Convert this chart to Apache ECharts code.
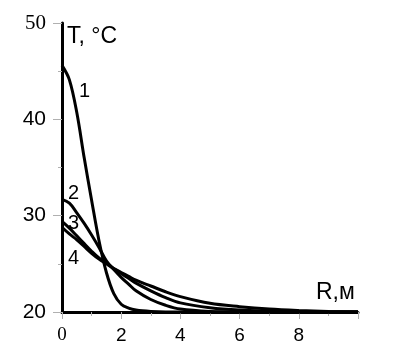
<!DOCTYPE html>
<html>
<head>
<meta charset="utf-8">
<script src="https://cdn.jsdelivr.net/npm/echarts@6/dist/echarts.min.js"></script>
<style>html,body{margin:0;padding:0;background:#fff}#c{width:395px;height:363px}</style>
</head>
<body>
<div id="c"></div>
<script>
const R = [0, 0.25, 0.5, 0.75, 1, 1.25, 1.5, 1.75, 2, 2.25, 2.5, 3, 3.5, 4, 5, 6, 7, 8, 9, 10];
const curve1 = [45.6, 44.1, 40.7, 36.0, 31.6, 27.4, 24.1, 21.9, 20.8, 20.4, 20.2, 20.05, 20.0, 20, 20, 20, 20, 20, 20, 20];
const curve2 = [31.7, 31.3, 30.3, 29.2, 28.0, 26.7, 25.3, 24.4, 23.6, 22.9, 22.2, 21.3, 20.7, 20.3, 20.05, 20, 20, 20, 20, 20];
const curve3 = [29.4, 28.7, 27.9, 27.1, 26.3, 25.6, 25.1, 24.5, 24.0, 23.5, 23.0, 22.2, 21.5, 20.95, 20.45, 20.2, 20.1, 20.05, 20, 20];
const curve4 = [28.8, 28.1, 27.5, 26.8, 26.1, 25.5, 25.0, 24.5, 24.1, 23.7, 23.3, 22.7, 22.1, 21.6, 20.9, 20.55, 20.3, 20.15, 20.05, 20];
const curveNames = ['1', '2', '3', '4'];
const xTicks = [0, 2, 4, 6, 8];
const yTicks = [20, 30, 40, 50];
const yName = 'T, °C';
const xName = 'R,м';

const chart = echarts.init(document.getElementById('c'), null, {renderer: 'canvas'});
const mk = (arr) => R.map((r, i) => [r, arr[i]]);
const lineStyle = {color: '#000', width: 3};
const seriesArr = [curve1, curve2, curve3, curve4].map((arr, i) => ({
  name: curveNames[i], type: 'line', data: mk(arr), smooth: 0.35,
  symbol: 'none', lineStyle: lineStyle, z: 3, clip: false
}));
const font = 'Arial, "Liberation Sans", sans-serif';
const serif = '"Times New Roman", "Liberation Serif", serif';
chart.setOption({
  animation: false,
  grid: {left: 62, right: 37, top: 23, bottom: 51, containLabel: false},
  xAxis: {
    type: 'value', min: 0, max: 10, interval: 2,
    axisLine: {show: true, onZero: false, lineStyle: {color: '#000', width: 3}},
    axisTick: {show: true, length: 7, lineStyle: {color: '#b0b0b0', width: 1}},
    minorTick: {show: true, splitNumber: 2, length: 4, lineStyle: {color: '#b0b0b0', width: 1}},
    splitLine: {show: false},
    axisLabel: {
      margin: 14,
      formatter: v => xTicks.indexOf(v) < 0 ? '' : (v === 0 ? '{s|0}' : '{a|' + v + '}'),
      rich: {
        a: {fontFamily: font, fontSize: 19, color: '#000'},
        s: {fontFamily: serif, fontSize: 19, color: '#000'}
      }
    }
  },
  yAxis: {
    type: 'value', min: 20, max: 50, interval: 10,
    axisLine: {show: true, onZero: false, lineStyle: {color: '#000', width: 3}},
    axisTick: {show: true, length: 9, lineStyle: {color: '#b0b0b0', width: 1}},
    minorTick: {show: true, splitNumber: 2, length: 4, lineStyle: {color: '#b0b0b0', width: 1}},
    splitLine: {show: false},
    axisLabel: {
      margin: 16,
      formatter: v => yTicks.indexOf(v) < 0 ? '' : (v === 50 ? '{s|50}' : '{a|' + v + '}'),
      rich: {
        a: {fontFamily: font, fontSize: 21, color: '#000'},
        s: {fontFamily: serif, fontSize: 21, color: '#000'}
      }
    }
  },
  series: seriesArr,
  graphic: [
    {type: 'text', left: 67, top: 25, style: {text: yName, font: '23px ' + font, fill: '#000'}},
    {type: 'text', left: 316, top: 281, style: {text: xName, font: '23px ' + font, fill: '#000'}},
    {type: 'text', left: 79, top: 81, style: {text: curveNames[0], font: '20px ' + font, fill: '#000'}},
    {type: 'text', left: 68, top: 183, style: {text: curveNames[1], font: '20px ' + font, fill: '#000'}},
    {type: 'text', left: 68, top: 213, style: {text: curveNames[2], font: '20px ' + font, fill: '#000'}},
    {type: 'text', left: 68, top: 248, style: {text: curveNames[3], font: '20px ' + font, fill: '#000'}}
  ]
});
</script>
</body>
</html>
